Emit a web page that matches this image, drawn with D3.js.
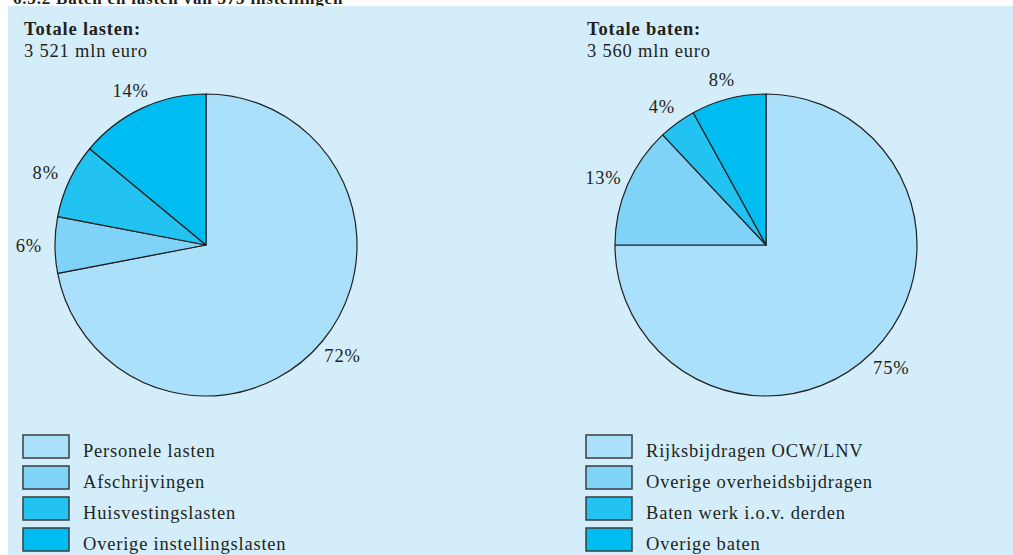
<!DOCTYPE html>
<html>
<head>
<meta charset="utf-8">
<script src="https://cdn.jsdelivr.net/npm/d3@7"></script>
<style>
  body { margin: 0; background: #fff; }
  svg text { font-family: "Liberation Serif", "DejaVu Serif", serif; fill: #231f20; letter-spacing: 0.8px; }
</style>
</head>
<body>
<svg id="chart" width="1013" height="555"></svg>
<script>
// data
var lastenLabels = ['Personele lasten', 'Afschrijvingen', 'Huisvestingslasten', 'Overige instellingslasten'];
var lastenValues = [72, 6, 8, 14];
var batenLabels = ['Rijksbijdragen OCW/LNV', 'Overige overheidsbijdragen', 'Baten werk i.o.v. derden', 'Overige baten'];
var batenValues = [75, 13, 4, 8];
var lastenTitle = ['Totale lasten:', '3 521 mln euro'];
var batenTitle = ['Totale baten:', '3 560 mln euro'];

var colors = ['#aae0f9', '#7fd3f6', '#22c3f1', '#00bdf1'];

var svg = d3.select('#chart');

// heading above the panel (cut off in the original)
svg.append('text')
    .attr('x', 13).attr('y', 4)
    .attr('font-size', 17).attr('font-weight', 'bold')
    .text('6.5.2 Baten en lasten van 373 instellingen');

// background panel
svg.append('rect')
    .attr('x', 8).attr('y', 6)
    .attr('width', 1005).attr('height', 549)
    .attr('fill', '#d3eefa');

var radius = 151,
    labelRadius = 172;

var pie = d3.pie().sort(null).value(function (d) { return d; });
var arc = d3.arc().innerRadius(0).outerRadius(radius);
var labelArc = d3.arc().innerRadius(labelRadius).outerRadius(labelRadius);

function drawPanel(opts) {
    var g = svg.append('g');

    // title
    g.append('text')
        .attr('x', opts.x).attr('y', 35)
        .attr('font-size', 18.5).attr('font-weight', 'bold')
        .text(opts.title[0]);
    g.append('text')
        .attr('x', opts.x).attr('y', 57)
        .attr('font-size', 18.5)
        .text(opts.title[1]);

    // pie
    var pg = g.append('g')
        .attr('transform', 'translate(' + opts.cx + ',' + opts.cy + ')');
    var arcs = pie(opts.values);
    pg.selectAll('path')
        .data(arcs)
        .enter()
        .append('path')
        .attr('d', arc)
        .attr('fill', function (d, i) { return colors[i]; })
        .attr('stroke', '#231f20')
        .attr('stroke-width', 1.2)
        .attr('stroke-linejoin', 'round');

    pg.selectAll('text')
        .data(arcs)
        .enter()
        .append('text')
        .attr('transform', function (d) {
            var c = labelArc.centroid(d);
            return 'translate(' + (c[0] * 1.03) + ',' + c[1] + ')';
        })
        .attr('text-anchor', 'middle')
        .attr('dy', '0.4em')
        .attr('font-size', 18.5)
        .text(function (d) { return d.data + '%'; });

    // legend
    var lg = g.selectAll('g.legend')
        .data(opts.labels)
        .enter()
        .append('g')
        .attr('class', 'legend')
        .attr('transform', function (d, i) {
            return 'translate(' + opts.lx + ',' + (435 + i * 31) + ')';
        });
    lg.append('rect')
        .attr('width', 46).attr('height', 23)
        .attr('fill', function (d, i) { return colors[i]; })
        .attr('stroke', '#3d3d3d')
        .attr('stroke-width', 1.5);
    lg.append('text')
        .attr('x', 60).attr('y', 22)
        .attr('font-size', 18.5)
        .text(function (d) { return d; });
}

drawPanel({ x: 24, cx: 206, cy: 245, lx: 23, title: lastenTitle, values: lastenValues, labels: lastenLabels });
drawPanel({ x: 587, cx: 766, cy: 245, lx: 586, title: batenTitle, values: batenValues, labels: batenLabels });
</script>
</body>
</html>
